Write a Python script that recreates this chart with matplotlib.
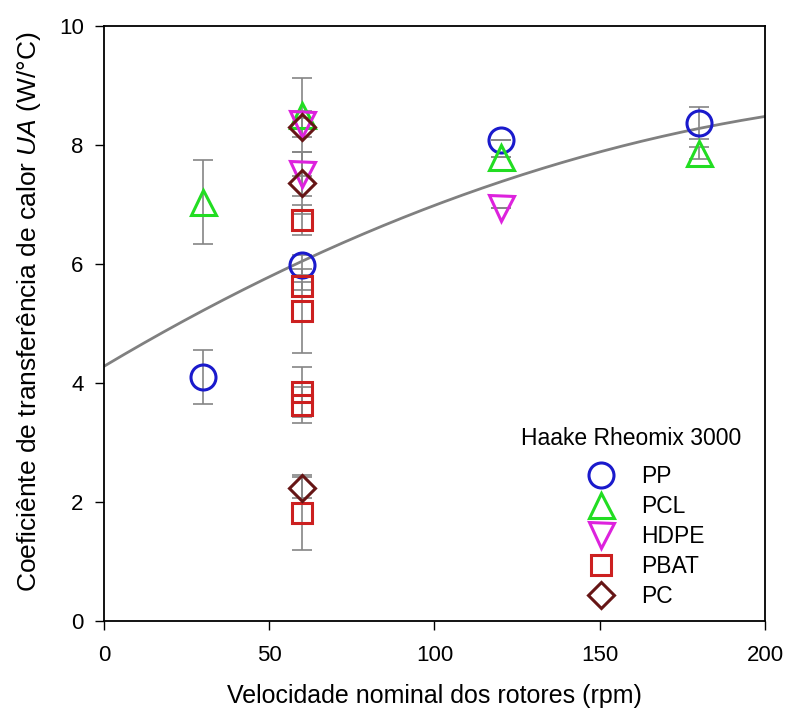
import numpy as np
import matplotlib
matplotlib.use("Agg")
import matplotlib.pyplot as plt
from matplotlib.lines import Line2D

plt.rcParams['font.family'] = ['Liberation Sans', 'DejaVu Sans']
plt.rcParams['mathtext.fontset'] = 'custom'
plt.rcParams['mathtext.it'] = 'Liberation Sans:italic'
plt.rcParams['mathtext.rm'] = 'Liberation Sans'

# data (rpm, UA, error)
pp_x = [30, 60, 120, 180]
pp_y = [4.10, 5.98, 8.08, 8.37]
pp_err = [0.46, 0.17, 0.0, 0.27]

pcl_x = [30, 60, 120, 180]
pcl_y = [7.04, 8.50, 7.80, 7.87]
pcl_err = [0.70, 0.05, 0.0, 0.10]

hdpe_x = [60, 60, 120]
hdpe_y = [8.35, 7.51, 6.94]
hdpe_err = [0.22, 0.37, 0.0]

pbat_x = [60, 60, 60, 60, 60, 60]
pbat_y = [6.74, 5.63, 5.21, 3.85, 3.63, 1.82]
pbat_err = [0.25, 0.07, 0.71, 0.42, 0.30, 0.63]

pc_x = [60, 60, 60]
pc_y = [8.30, 7.36, 2.24]
pc_err = [0.82, 0.52, 0.18]

# quadratic fit coefficients (a + b*x + c*x^2)
fit_a, fit_b, fit_c = 4.28, 0.0331, -6.05e-5

series = [
    ('PP', pp_x, pp_y, pp_err, 'o', '#1a1acc', 18),
    ('PCL', pcl_x, pcl_y, pcl_err, '^', '#22dd22', 18),
    ('HDPE', hdpe_x, hdpe_y, hdpe_err, 'v', '#dd22dd', 18),
    ('PBAT', pbat_x, pbat_y, pbat_err, 's', '#cc2020', 14.5),
    ('PC', pc_x, pc_y, pc_err, 'D', '#661515', 13.5),
]

fig = plt.figure(figsize=(7.87, 7.13), dpi=100)
ax = fig.add_axes([0.132, 0.129, 0.840, 0.8345])

xf = np.linspace(0, 200, 200)
ax.plot(xf, fit_a + fit_b * xf + fit_c * xf**2, color='#808080', lw=2, zorder=1)

handles = []
for name, x, y, e, m, c, ms in series:
    ax.errorbar(x, y, yerr=e, fmt='none', ecolor='#858585', elinewidth=1.2,
                capsize=7, capthick=1.2, zorder=2)
    ax.plot(x, y, m, ms=ms, mfc='none', mec=c, mew=2.2, ls='none', zorder=3)
    handles.append(Line2D([], [], marker=m, ms=ms, mfc='none', mec=c, mew=2.2, ls='none', label=name))

ax.set_xlim(0, 200)
ax.set_ylim(0, 10)
ax.set_xticks([0, 50, 100, 150, 200])
ax.set_yticks([0, 2, 4, 6, 8, 10])
ax.tick_params(direction='out', length=6.5, width=1, labelsize=16)
ax.tick_params(axis='x', pad=11)
ax.tick_params(axis='y', pad=8)
for s in ax.spines.values():
    s.set_linewidth(1.3)

ax.set_xlabel('Velocidade nominal dos rotores (rpm)', fontsize=18, labelpad=13)
ax.set_ylabel(r'Coeficiênte de transferência de calor $UA$ (W/°C)', fontsize=19)
ax.yaxis.set_label_coords(-0.092, 0.52)

ax.text(0.797, 0.3076, 'Haake Rheomix 3000', transform=ax.transAxes,
        ha='center', va='center', fontsize=16.5)
ax.legend(handles=handles, frameon=False, loc='upper left',
          bbox_to_anchor=(0.726, 0.262), borderpad=0, borderaxespad=0,
          fontsize=16.5, handlelength=1.5, handletextpad=1.0, labelspacing=0.3)

fig.savefig('out.png', dpi=100)
